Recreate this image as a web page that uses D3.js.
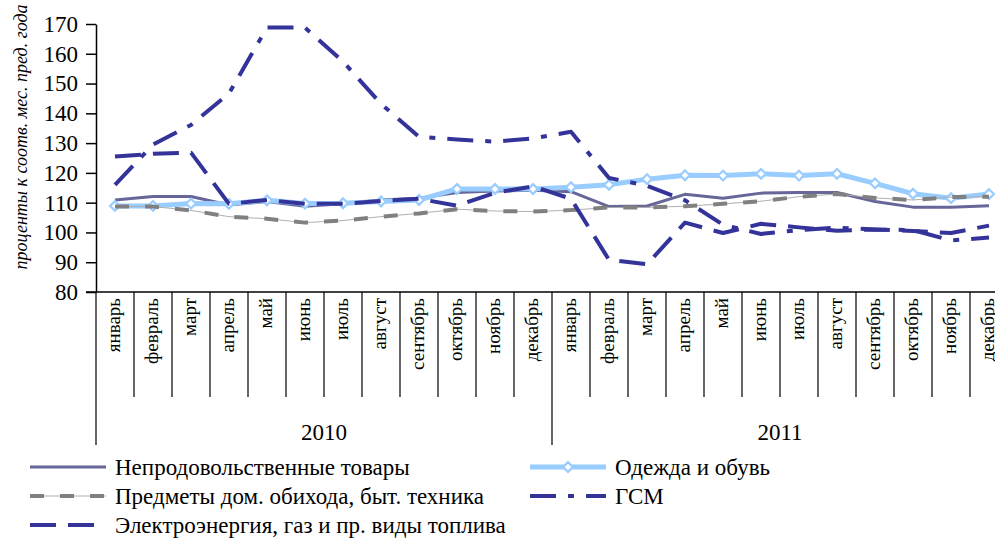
<!DOCTYPE html>
<html lang="ru">
<head>
<meta charset="UTF-8">
<script src="https://d3js.org/d3.v7.min.js"></script>
<title>Цены</title>
<style>
  body { margin: 0; background: #fff; }
</style>
</head>
<body>
<div id="canvas"></div>
<script>
// categories
const months = ["январь","февраль","март","апрель","май","июнь","июль","август","сентябрь","октябрь","ноябрь","декабрь"];
const years = ["2010","2011"];
const yTicks = [80,90,100,110,120,130,140,150,160,170];

// series, % to same month of previous year
const nonFood   = [110.9,112.1,112.1,109.2,110.4,108.8,109.6,110.9,111.5,113.4,113.9,114.2, 113.7,108.7,108.9,112.8,111.5,113.2,113.4,113.4,110.4,108.5,108.5,109.0];
const clothing  = [108.9,108.9,109.7,109.6,110.8,109.7,109.8,110.4,110.9,114.6,114.6,114.6, 115.2,116.0,117.9,119.2,119.1,119.7,119.1,119.7,116.5,113.0,111.5,112.9];
const household = [108.7,108.7,107.4,105.3,104.6,103.3,104.0,105.3,106.4,107.8,107.2,107.0, 107.5,108.4,108.4,108.8,109.6,110.5,112.0,112.9,111.6,110.9,111.9,112.0];
const fuel      = [116.0,129.5,136.1,146.7,168.8,168.8,157.4,143.2,132.1,131.2,130.5,131.6, 133.8,118.3,115.7,110.8,102.6,99.5,100.8,101.6,101.0,100.8,97.3,98.3];
const energy    = [125.5,126.4,126.8,109.6,110.9,109.6,109.6,110.6,111.3,109.0,113.3,115.5, 111.3,90.8,89.3,103.3,99.8,102.9,101.7,100.6,101.0,100.5,99.8,102.3];

const names = ["Непродовольственные  товары","Одежда и обувь","Предметы дом. обихода, быт. техника","ГСМ","Электроэнергия, газ и пр. виды топлива"];

const keys = years.flatMap(y => months.map(m => y + "|" + m));

const FONT = '"Liberation Serif", "Times New Roman", serif';
const W = 995, H = 538;
const margin = {top:24, left:96, right:-13, bottom:246};
const svg = d3.select("#canvas").append("svg").attr("width",W).attr("height",H)
  .style("font-family",FONT);

const x = d3.scaleBand().domain(keys).range([margin.left, W - margin.right]);
const y = d3.scaleLinear().domain([80,170]).range([H - margin.bottom, margin.top]);
const bw = x.bandwidth();
const y0 = y(80);

const series = [
  {name:names[0], values:nonFood,   color:"#666699", width:3,   dash:null},
  {name:names[1], values:clothing,  color:"#99CCFF", width:5,   dash:null, marker:true},
  {name:names[2], values:household, color:"#808080", width:4,   dash:"14,16", thin:true},
  {name:names[3], values:fuel,      color:"#333399", width:4,   dash:"26,12,6,12"},
  {name:names[4], values:energy,    color:"#333399", width:4,   dash:"26,12"}
];

// y axis
const gy = svg.append("g").attr("transform",`translate(${margin.left},0)`)
  .call(d3.axisLeft(y).tickValues(yTicks).tickSize(10).tickPadding(8).tickSizeOuter(0));
gy.style("font-family",FONT).attr("font-size",23);
gy.select(".domain").attr("stroke","#000").attr("stroke-width",1.5);
gy.selectAll(".tick line").attr("stroke","#000").attr("stroke-width",1.5);
gy.selectAll(".tick text").attr("fill","#000");

svg.append("text")
  .attr("transform",`translate(27,137) rotate(-90)`)
  .attr("text-anchor","middle")
  .style("font-family",FONT)
  .style("font-size","18px").style("font-style","italic")
  .text("проценты к соотв. мес. пред. года");

// category axis
svg.append("line").attr("x1",margin.left-10).attr("x2",W).attr("y1",y0).attr("y2",y0)
  .attr("stroke","#000").attr("stroke-width",1.5);

const bounds = keys.map(k => x(k)).concat([x.range()[1]]);
svg.append("g").selectAll("line").data(bounds).join("line")
  .attr("x1",d => d).attr("x2",d => d)
  .attr("y1",y0)
  .attr("y2",(d,i) => i % 12 === 0 ? 445 : 397)
  .attr("stroke","#000").attr("stroke-width",1.2);

svg.append("g").selectAll("text").data(keys).join("text")
  .attr("transform",k => `translate(${x(k) + bw/2 + 5},${y0 + 6}) rotate(-90)`)
  .attr("text-anchor","end")
  .style("font-family",FONT)
  .style("font-size","19px")
  .text(k => k.split("|")[1]);

svg.append("g").selectAll("text").data(years).join("text")
  .attr("x",yr => (x(yr + "|" + months[0]) + x(yr + "|" + months[11]) + bw) / 2)
  .attr("y",440)
  .attr("text-anchor","middle")
  .style("font-family",FONT)
  .style("font-size","23px")
  .text(yr => yr);

// lines
const line = d3.line().x((d,i) => x(keys[i]) + bw/2).y(d => y(d));

series.forEach(s => {
  if (s.thin) {
    svg.append("path").datum(s.values).attr("d",line)
      .attr("fill","none").attr("stroke","#b0b0b0").attr("stroke-width",1);
  }
  svg.append("path").datum(s.values).attr("d",line)
    .attr("fill","none").attr("stroke",s.color).attr("stroke-width",s.width)
    .attr("stroke-dasharray",s.dash).attr("stroke-linejoin","round");
  if (s.marker) {
    svg.append("g").selectAll("path").data(s.values).join("path")
      .attr("d",d3.symbol(d3.symbolDiamond2,60))
      .attr("transform",(d,i) => `translate(${x(keys[i]) + bw/2},${y(d)})`)
      .attr("fill","#fff").attr("stroke",s.color).attr("stroke-width",2.2);
  }
});

// legend
const legX = [30, 530], legY = [467, 496, 525];
series.forEach((s,i) => {
  const lx = legX[i % 2], ly = legY[Math.floor(i / 2)];
  const g = svg.append("g").attr("transform",`translate(${lx},${ly})`);
  if (s.thin) g.append("line").attr("x1",0).attr("x2",76).attr("stroke","#b0b0b0").attr("stroke-width",1);
  g.append("line").attr("x1",0).attr("x2",76)
    .attr("stroke",s.color).attr("stroke-width",s.width).attr("stroke-dasharray",s.dash);
  if (s.marker) {
    g.append("path").attr("d",d3.symbol(d3.symbolDiamond2,60)).attr("transform","translate(38,0)")
      .attr("fill","#fff").attr("stroke",s.color).attr("stroke-width",2.2);
  }
  g.append("text").attr("x",85).attr("y",8)
    .style("font-family",FONT)
    .style("font-size","23px").text(s.name);
});
</script>
</body>
</html>
